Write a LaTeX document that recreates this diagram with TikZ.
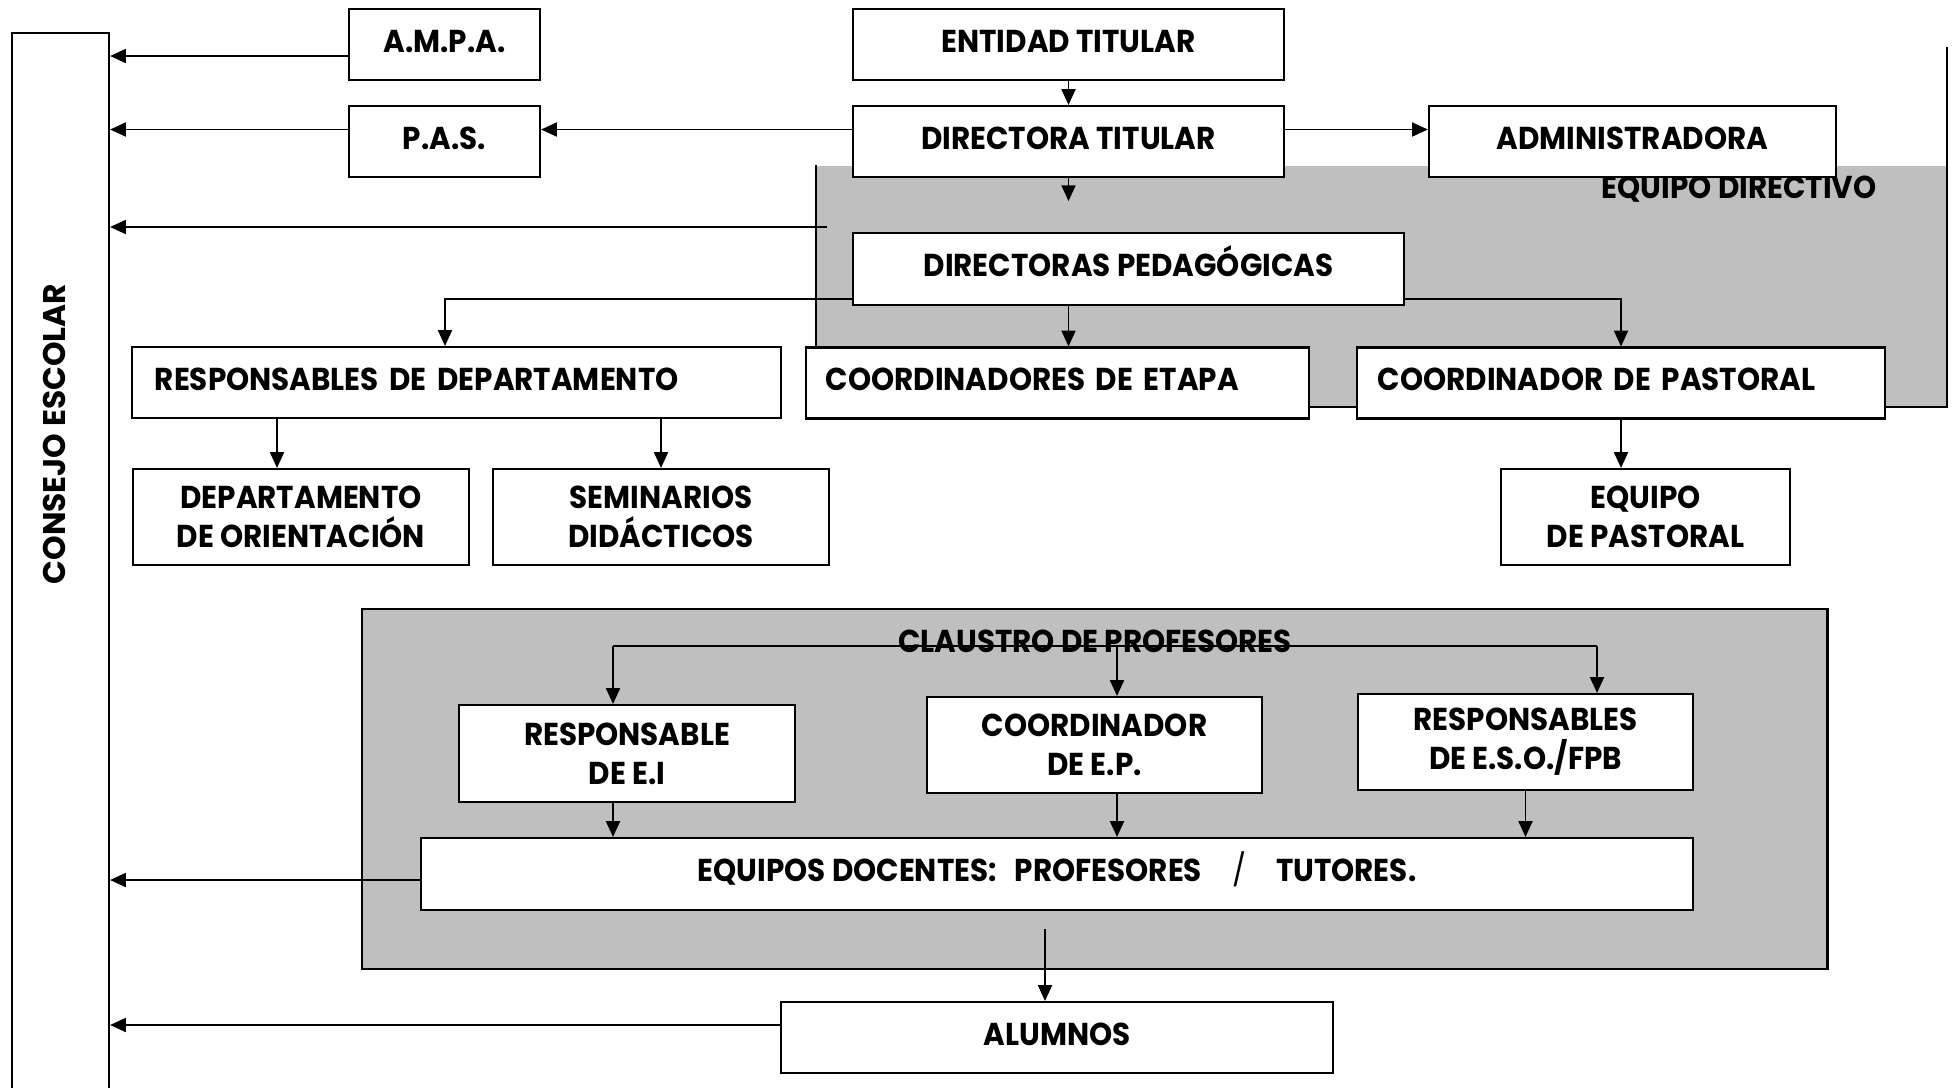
\documentclass[tikz,border=0pt]{standalone}
\usepackage{fontspec}
\usetikzlibrary{arrows.meta}
\newfontfamily\boxfont{Poppins}[FakeStretch=0.93]
\newfontfamily\sidefont{Poppins}

\begin{document}
\begin{tikzpicture}[x=0.01cm, y=-0.01cm,
  box/.style={draw, line width=0.6pt, fill=white, inner sep=0pt, align=center,
    font=\boxfont\bfseries\fontsize{9}{11.1}\selectfont},
  one/.style={text height=0.22cm, text depth=0.07cm},
  arr/.style={-{Triangle[length=4.5pt,width=4pt]}, line width=0.5pt},
  grp/.style={fill=black!25, inner sep=0pt},
  lbl/.style={font=\boxfont\bfseries\fontsize{9}{11.1}\selectfont}]
  \useasboundingbox (0,0) rectangle (1952,1087);

  \node[grp, minimum width=11.29cm, minimum height=2.4cm] (equipodir) at (1381.5,286) {};
  \draw[line width=0.6pt] (equipodir.north west) -- (equipodir.south west)
    -- (equipodir.south east) -- (equipodir.east |- 0,47);
  \node[lbl] (equipodirtxt) at (1739,189) {EQUIPO DIRECTIVO};

  \node[grp, draw, line width=0.6pt, minimum width=14.65cm, minimum height=3.6cm] (claustro) at (1094.5,789) {};
  \node[lbl] (claustrotxt) at (1095,641) {CLAUSTRO DE PROFESORES};

  \node[draw, line width=0.6pt, minimum width=0.97cm, minimum height=10.9cm] (consejo) at (60.5,578) {};
  \node[rotate=90, font=\sidefont\bfseries\fontsize{8.9}{11}\selectfont] (consejotxt) at (54.5,434) {CONSEJO ESCOLAR};

  \node[box, one, minimum width=1.91cm, minimum height=0.71cm] (ampa) at (444.5,44.5) {A.M.P.A.};
  \node[box, one, minimum width=1.91cm, minimum height=0.71cm] (pas) at (444.5,141.5) {P.A.S.};
  \node[box, one, minimum width=4.31cm, minimum height=0.71cm] (entidad) at (1068.5,44.5) {ENTIDAD TITULAR};
  \node[box, one, minimum width=4.31cm, minimum height=0.71cm] (dtitular) at (1068.5,141.5) {DIRECTORA TITULAR};
  \node[box, one, minimum width=4.07cm, minimum height=0.71cm] (admin) at (1632.5,141.5) {ADMINISTRADORA};
  \node[box, one, minimum width=5.51cm, minimum height=0.72cm] (dped) at (1128.5,269) {DIRECTORAS PEDAGÓGICAS};

  \node[box, one, text width=6.03cm, inner xsep=0.23cm, minimum height=0.71cm, align=left] (resdep) at (456.5,382.5) {RESPONSABLES DE DEPARTAMENTO};
  \node[box, one, text width=4.63cm, inner xsep=0.2cm, minimum height=0.71cm, align=left] (coordetapa) at (1057.5,383) {COORDINADORES DE ETAPA};
  \node[box, one, text width=4.86cm, inner xsep=0.21cm, minimum height=0.71cm, align=left] (coordpast) at (1621,383) {COORDINADOR DE PASTORAL};

  \node[box, minimum width=3.36cm, minimum height=0.96cm] (deporient) at (301,517) {DEPARTAMENTO\\DE ORIENTACIÓN};
  \node[box, minimum width=3.36cm, minimum height=0.96cm] (seminarios) at (661,517) {SEMINARIOS\\DIDÁCTICOS};
  \node[box, minimum width=2.89cm, minimum height=0.96cm] (eqpastoral) at (1645.5,517) {EQUIPO\\DE PASTORAL};

  \node[box, minimum width=3.36cm, minimum height=0.97cm] (resei) at (627,753.5) {RESPONSABLE\\DE E.I};
  \node[box, minimum width=3.35cm, minimum height=0.96cm] (coordep) at (1094.5,745) {COORDINADOR\\DE E.P.};
  \node[box, minimum width=3.35cm, minimum height=0.96cm] (resesofpb) at (1525.5,742) {RESPONSABLES\\DE E.S.O./FPB};
  \node[box, one, minimum width=12.72cm, minimum height=0.72cm] (eqdoc) at (1057,874)
    {EQUIPOS DOCENTES:\hspace{0.18cm}PROFESORES\hspace{0.3cm}{\mdseries/}\hspace{0.3cm}TUTORES.};
  \node[box, one, minimum width=5.52cm, minimum height=0.71cm] (alumnos) at (1057,1037.5) {ALUMNOS};

  \draw[arr] (ampa.west |- 0,56) -- (consejo.east |- 0,56);
  \draw[arr] (pas.west |- 0,129.5) -- (consejo.east |- 0,129.5);
  \draw[arr] (dtitular.west |- 0,129.5) -- (pas.east |- 0,129.5);
  \draw[arr] (dtitular.east |- 0,129.5) -- (admin.west |- 0,129.5);
  \draw[arr] (entidad.south) -- (dtitular.north);
  \draw[arr] (dtitular.south) -- ++(0,23);
  \draw[arr] ([xshift=0.11cm]equipodir.west |- 0,227) -- (consejo.east |- 0,227);

  \draw[arr] (dped.west |- 0,299) -| (resdep.north -| 445,0);
  \draw[arr] (entidad.south |- dped.south) -- (entidad.south |- coordetapa.north);
  \draw[arr] (dped.east |- 0,299) -| (coordpast.north);
  \draw[arr] (resdep.south -| 277,0) -- (deporient.north -| 277,0);
  \draw[arr] (resdep.south -| seminarios.north) -- (seminarios.north);
  \draw[arr] (coordpast.south) -- (eqpastoral.north -| coordpast.south);

  \coordinate (clL) at (613,646);
  \coordinate (clM) at (1117,646);
  \coordinate (clR) at (1597,646);
  \draw[line width=0.5pt] (clL) -- (clR);
  \draw[arr] (clL) -- (clL |- resei.north);
  \draw[arr] (clM) -- (clM |- coordep.north);
  \draw[arr] (clR) -- (clR |- resesofpb.north);
  \draw[arr] (clL |- resei.south) -- (clL |- eqdoc.north);
  \draw[arr] (clM |- coordep.south) -- (clM |- eqdoc.north);
  \draw[arr] (resesofpb.south) -- (resesofpb.south |- eqdoc.north);

  \draw[arr] (eqdoc.west |- 0,880) -- (consejo.east |- 0,880);
  \draw[arr] ([xshift=-0.12cm,yshift=-0.18cm]eqdoc.south) -- ([xshift=-0.12cm]alumnos.north);
  \draw[arr] (alumnos.west |- 0,1025) -- (consejo.east |- 0,1025);
\end{tikzpicture}
\end{document}
